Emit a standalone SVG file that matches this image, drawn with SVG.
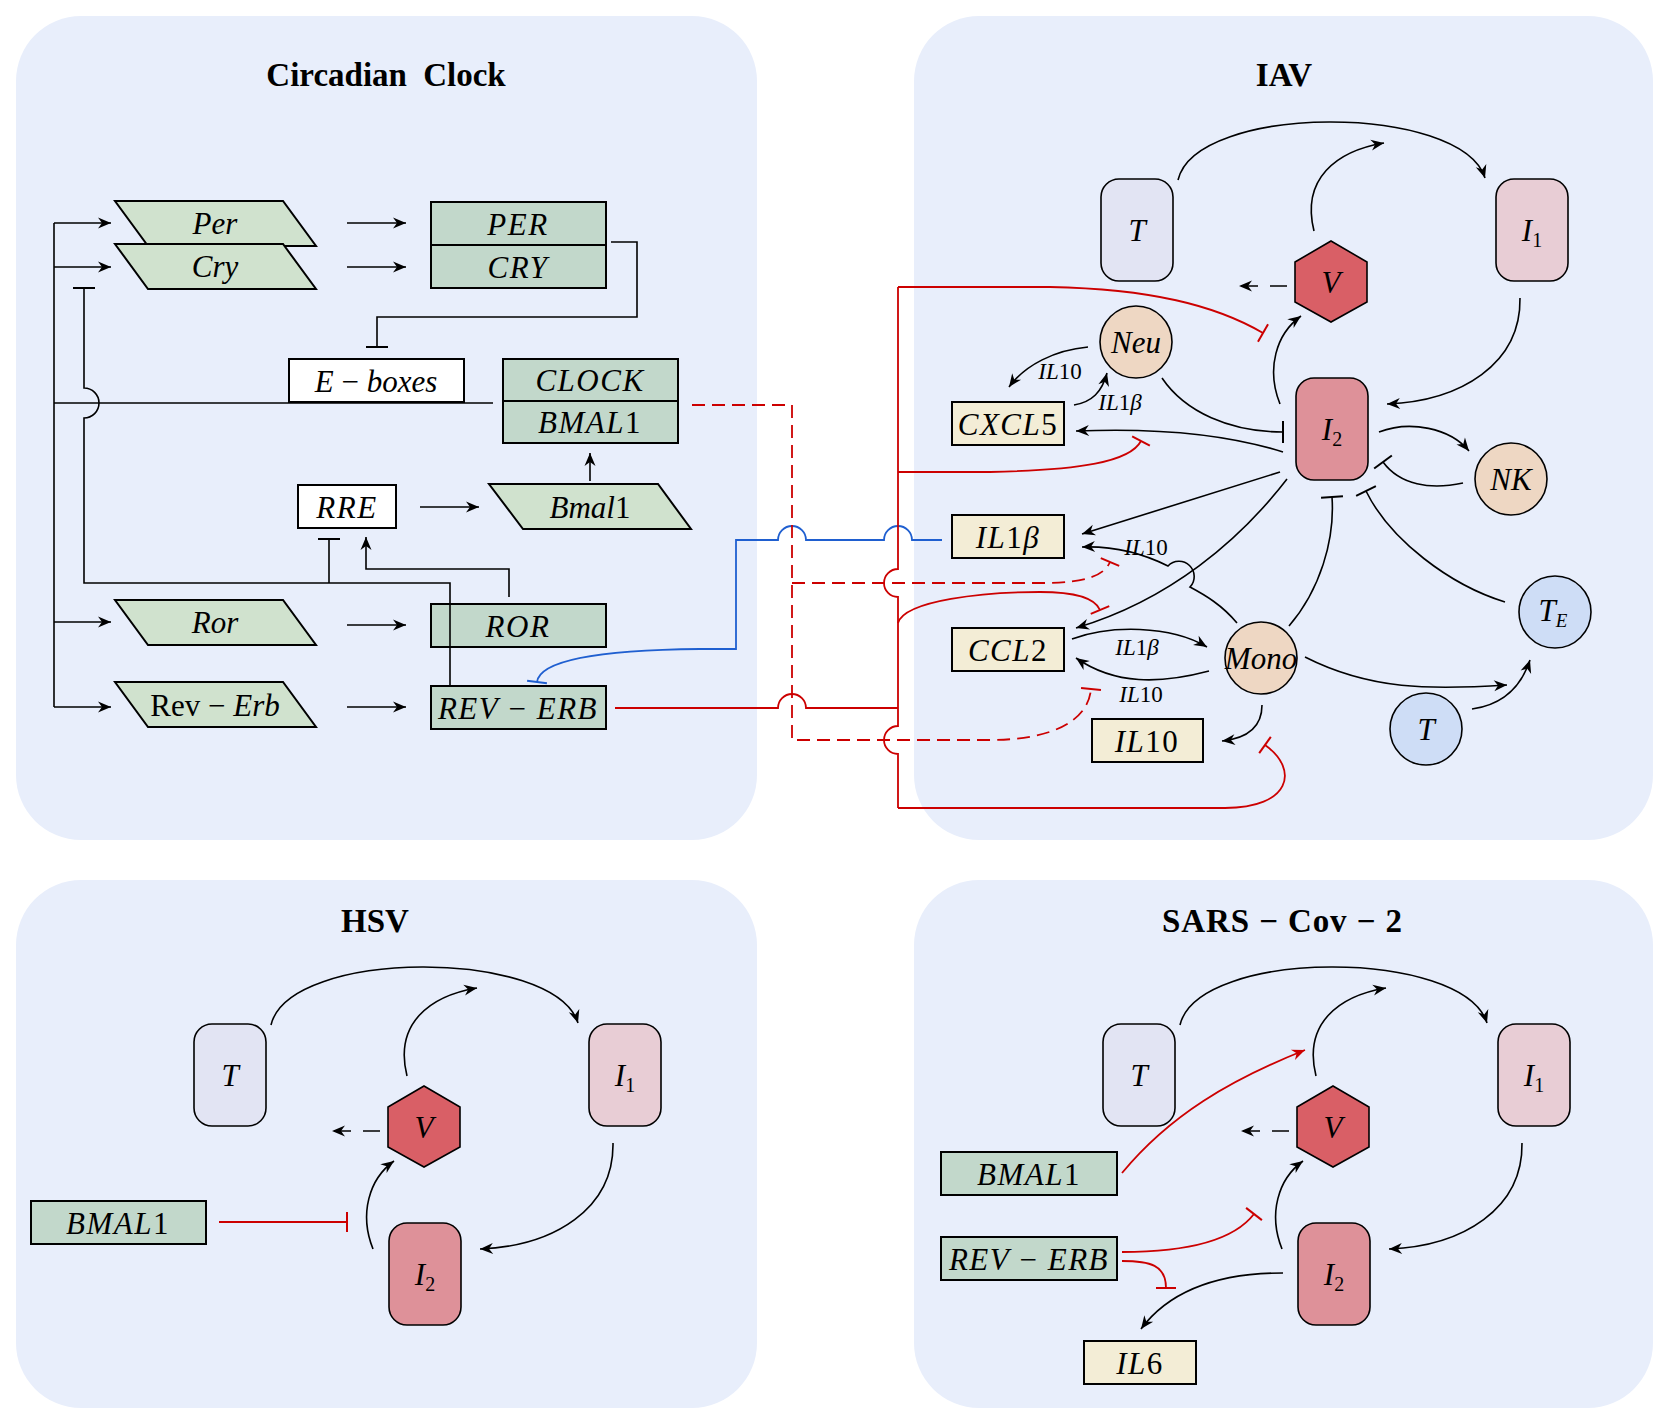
<svg xmlns="http://www.w3.org/2000/svg" width="1669" height="1423" viewBox="0 0 1669 1423">
<style>
.panel{fill:#E8EEFB}
.title{font-family:"Liberation Serif",serif;font-weight:bold;font-size:33px;text-anchor:middle;fill:#000}
.t{font-family:"Liberation Serif",serif;font-style:italic;font-size:31px;text-anchor:middle;fill:#000}
.w{letter-spacing:1.5px}
.u{font-style:normal}
.lbl{font-family:"Liberation Serif",serif;font-style:italic;font-size:23px;text-anchor:middle;fill:#000}
.par{fill:#D0E2CE;stroke:#000;stroke-width:2}
.gbox{fill:#C2D8CB;stroke:#000;stroke-width:2}
.wbox{fill:#FFFFFF;stroke:#000;stroke-width:2}
.cbox{fill:#F3EDD6;stroke:#000;stroke-width:2}
.nT{fill:#E2E4F3;stroke:#000;stroke-width:1.6}
.nI1{fill:#E8CDD5;stroke:#000;stroke-width:1.6}
.nI2{fill:#DE9199;stroke:#000;stroke-width:1.6}
.nV{fill:#D95F66;stroke:#000;stroke-width:1.6}
.nP{fill:#EED7C3;stroke:#000;stroke-width:1.6}
.nB{fill:#CEDDF6;stroke:#000;stroke-width:1.6}
.e{fill:none;stroke:#000;stroke-width:1.6}
.r{fill:none;stroke:#CC0000;stroke-width:1.8}
.d{stroke-dasharray:13 7}
.b{fill:none;stroke:#1F5FD0;stroke-width:1.8}
</style>
<defs>
<marker id="ah" viewBox="-14 -7 15 14" refX="0" refY="0" markerWidth="15" markerHeight="14" markerUnits="userSpaceOnUse" orient="auto"><path d="M0,0 L-13,-5.5 L-9,0 L-13,5.5 Z" fill="#000"/></marker>
<marker id="ahr" viewBox="-14 -7 15 14" refX="0" refY="0" markerWidth="15" markerHeight="14" markerUnits="userSpaceOnUse" orient="auto"><path d="M0,0 L-13,-5.5 L-9,0 L-13,5.5 Z" fill="#CC0000"/></marker>
<marker id="bar" viewBox="-2 -12 4 24" refX="0" refY="0" markerWidth="4" markerHeight="24" markerUnits="userSpaceOnUse" orient="auto"><path d="M0,-11 V11" stroke="#000" stroke-width="2" fill="none"/></marker>
<marker id="barr" viewBox="-2 -12 4 24" refX="0" refY="0" markerWidth="4" markerHeight="24" markerUnits="userSpaceOnUse" orient="auto"><path d="M0,-10 V10" stroke="#CC0000" stroke-width="2" fill="none"/></marker>
<marker id="barb" viewBox="-2 -12 4 24" refX="0" refY="0" markerWidth="4" markerHeight="24" markerUnits="userSpaceOnUse" orient="auto"><path d="M0,-10 V10" stroke="#1F5FD0" stroke-width="2" fill="none"/></marker>
</defs>

<g id="panels">
<rect class="panel" x="16" y="16" width="741" height="824" rx="65"/>
<rect class="panel" x="914" y="16" width="739" height="824" rx="65"/>
<rect class="panel" x="16" y="880" width="741" height="528" rx="65"/>
<rect class="panel" x="914" y="880" width="739" height="528" rx="65"/>
<text class="title" x="386" y="86" word-spacing="8">Circadian Clock</text>
<text class="title" x="1284" y="86">IAV</text>
<text class="title" x="375" y="932">HSV</text>
<text class="title" x="1282" y="932" textLength="240">SARS − Cov − 2</text>
</g>

<!-- Circadian clock nodes -->
<g id="n-Per"><polygon class="par" points="115,201 283,201 316,246 148,246"/><text class="t" x="215" y="234">Per</text></g>
<g id="n-Cry"><polygon class="par" points="115,244 283,244 316,289 148,289"/><text class="t" x="215" y="277">Cry</text></g>
<g id="n-PER"><rect class="gbox" x="431" y="202" width="175" height="43"/><text class="t w" x="518" y="235">PER</text></g>
<g id="n-CRY"><rect class="gbox" x="431" y="245" width="175" height="43"/><text class="t w" x="518" y="278">CRY</text></g>
<g id="n-Eboxes"><rect class="wbox" x="289" y="359" width="175" height="43"/><text class="t" x="376" y="392">E<tspan class="u"> − </tspan>boxes</text></g>
<g id="n-CLOCK"><rect class="gbox" x="503" y="359" width="175" height="42"/><text class="t w" x="590" y="391">CLOCK</text></g>
<g id="n-BMAL1"><rect class="gbox" x="503" y="401" width="175" height="42"/><text class="t w" x="590" y="433">BMAL<tspan class="u">1</tspan></text></g>
<g id="n-RRE"><rect class="wbox" x="298" y="485" width="98" height="43"/><text class="t w" x="347" y="518">RRE</text></g>
<g id="n-Bmal1"><polygon class="par" points="489,484 658,484 691,529 523,529"/><text class="t" x="590" y="518">Bmal<tspan class="u">1</tspan></text></g>
<g id="n-Ror"><polygon class="par" points="115,600 283,600 316,645 148,645"/><text class="t" x="215" y="633">Ror</text></g>
<g id="n-ROR"><rect class="gbox" x="431" y="604" width="175" height="43"/><text class="t w" x="518" y="637">ROR</text></g>
<g id="n-RevErb"><polygon class="par" points="115,682 283,682 316,727 148,727"/><text class="t" x="215" y="716"><tspan class="u">Rev − </tspan>Erb</text></g>
<g id="n-REVERB"><rect class="gbox" x="431" y="686" width="175" height="43"/><text class="t w" x="518" y="719">REV<tspan class="u"> − </tspan>ERB</text></g>

<!-- IAV nodes -->
<g id="iav-T"><rect class="nT" x="1101" y="179" width="72" height="102" rx="18"/><text class="t" x="1137" y="241">T</text></g>
<g id="iav-I1"><rect class="nI1" x="1496" y="179" width="72" height="102" rx="18"/><text class="t" x="1532" y="241">I<tspan class="u" font-size="20" dy="6">1</tspan></text></g>
<g id="iav-V"><polygon class="nV" points="1331,241 1367,262 1367,302 1331,322 1295,302 1295,262"/><text class="t" x="1331" y="293">V</text></g>
<g id="iav-I2"><rect class="nI2" x="1296" y="378" width="72" height="102" rx="18"/><text class="t" x="1332" y="440">I<tspan class="u" font-size="20" dy="6">2</tspan></text></g>
<g id="iav-Neu"><circle class="nP" cx="1136" cy="342" r="36"/><text class="t" x="1136" y="353">Neu</text></g>
<g id="iav-NK"><circle class="nP" cx="1511" cy="479" r="36"/><text class="t" x="1511" y="490">NK</text></g>
<g id="iav-Mono"><circle class="nP" cx="1261" cy="658" r="36"/><text class="t" x="1261" y="669">Mono</text></g>
<g id="iav-TE"><circle class="nB" cx="1555" cy="612" r="36"/><text class="t" x="1553" y="621">T<tspan font-size="19" dy="6">E</tspan></text></g>
<g id="iav-Tc"><circle class="nB" cx="1426" cy="729" r="36"/><text class="t" x="1426" y="740">T</text></g>
<g id="iav-CXCL5"><rect class="cbox" x="952" y="402" width="112" height="43"/><text class="t w" x="1008" y="435">CXCL<tspan class="u">5</tspan></text></g>
<g id="iav-IL1b"><rect class="cbox" x="952" y="515" width="112" height="43"/><text class="t w" x="1008" y="548">IL<tspan class="u">1</tspan>β</text></g>
<g id="iav-CCL2"><rect class="cbox" x="952" y="628" width="112" height="43"/><text class="t w" x="1008" y="661">CCL<tspan class="u">2</tspan></text></g>
<g id="iav-IL10"><rect class="cbox" x="1092" y="719" width="111" height="43"/><text class="t w" x="1147" y="752">IL<tspan class="u">10</tspan></text></g>

<!-- HSV nodes -->
<g id="hsv-T"><rect class="nT" x="194" y="1024" width="72" height="102" rx="18"/><text class="t" x="230" y="1086">T</text></g>
<g id="hsv-I1"><rect class="nI1" x="589" y="1024" width="72" height="102" rx="18"/><text class="t" x="625" y="1086">I<tspan class="u" font-size="20" dy="6">1</tspan></text></g>
<g id="hsv-V"><polygon class="nV" points="424,1086 460,1107 460,1147 424,1167 388,1147 388,1107"/><text class="t" x="424" y="1138">V</text></g>
<g id="hsv-I2"><rect class="nI2" x="389" y="1223" width="72" height="102" rx="18"/><text class="t" x="425" y="1285">I<tspan class="u" font-size="20" dy="6">2</tspan></text></g>
<g id="hsv-BMAL1"><rect class="gbox" x="31" y="1201" width="175" height="43"/><text class="t w" x="118" y="1234">BMAL<tspan class="u">1</tspan></text></g>

<!-- SARS-CoV-2 nodes -->
<g id="sars-T"><rect class="nT" x="1103" y="1024" width="72" height="102" rx="18"/><text class="t" x="1139" y="1086">T</text></g>
<g id="sars-I1"><rect class="nI1" x="1498" y="1024" width="72" height="102" rx="18"/><text class="t" x="1534" y="1086">I<tspan class="u" font-size="20" dy="6">1</tspan></text></g>
<g id="sars-V"><polygon class="nV" points="1333,1086 1369,1107 1369,1147 1333,1167 1297,1147 1297,1107"/><text class="t" x="1333" y="1138">V</text></g>
<g id="sars-I2"><rect class="nI2" x="1298" y="1223" width="72" height="102" rx="18"/><text class="t" x="1334" y="1285">I<tspan class="u" font-size="20" dy="6">2</tspan></text></g>
<g id="sars-BMAL1"><rect class="gbox" x="941" y="1152" width="176" height="43"/><text class="t w" x="1029" y="1185">BMAL<tspan class="u">1</tspan></text></g>
<g id="sars-REVERB"><rect class="gbox" x="941" y="1237" width="176" height="43"/><text class="t w" x="1029" y="1270">REV<tspan class="u"> − </tspan>ERB</text></g>
<g id="sars-IL6"><rect class="cbox" x="1084" y="1341" width="112" height="43"/><text class="t w" x="1140" y="1374">IL<tspan class="u">6</tspan></text></g>

<g id="connectors">
<!-- circadian -->
<path class="e" d="M54,223 V707"/>
<path class="e" d="M54,223 H111" marker-end="url(#ah)"/>
<path class="e" d="M54,267 H111" marker-end="url(#ah)"/>
<path class="e" d="M54,622 H111" marker-end="url(#ah)"/>
<path class="e" d="M54,707 H111" marker-end="url(#ah)"/>
<path class="e" d="M54,403 H493"/>
<path class="e" d="M347,223 H406" marker-end="url(#ah)"/>
<path class="e" d="M347,267 H406" marker-end="url(#ah)"/>
<path class="e" d="M347,625 H406" marker-end="url(#ah)"/>
<path class="e" d="M347,707 H406" marker-end="url(#ah)"/>
<path class="e" d="M611,242 H637 V317 H377 V347" marker-end="url(#bar)"/>
<path class="e" d="M450,686 V583 H84 V418 A15,15 0 0 0 84,388 V288" marker-end="url(#bar)"/>
<path class="e" d="M329,583 V539" marker-end="url(#bar)"/>
<path class="e" d="M509,597 V569 H366 V537" marker-end="url(#ah)"/>
<path class="e" d="M420,507 H479" marker-end="url(#ah)"/>
<path class="e" d="M590,481 V453" marker-end="url(#ah)"/>
<!-- cross-panel -->
<path class="b" d="M942,540 H912 A14,14 0 0 0 884,540 H806 A14,14 0 0 0 778,540 H736 V649 H700 C600,650 540,660 537,682" marker-end="url(#barb)"/>
<path class="r d" d="M692,405 H792 V740 H990 C1050,740 1088,722 1091,689" marker-end="url(#barr)"/>
<path class="r d" d="M792,583 H1050 C1085,582 1104,576 1110,562" marker-end="url(#barr)"/>
<path class="r" d="M615,708 H778 A14,14 0 0 1 806,708 H898"/>
<path class="r" d="M898,287 V569 A14,14 0 0 0 898,597 V726 A14,14 0 0 0 898,754 V808"/>
<path class="r" d="M898,287 H1050 C1150,289 1215,305 1263,333" marker-end="url(#barr)"/>
<path class="r" d="M898,472 H990 C1080,470 1130,462 1141,441" marker-end="url(#barr)"/>
<path class="r" d="M898,623 C905,600 985,592 1040,592 C1075,592 1095,598 1100,610" marker-end="url(#barr)"/>
<path class="r" d="M898,808 H1225 C1290,808 1300,770 1265,745" marker-end="url(#barr)"/>
<!-- IAV -->
<path class="e" d="M1178,180 C1196,103 1461,103 1485,178" marker-end="url(#ah)"/>
<path class="e" d="M1314,231 C1301,179 1336,151 1384,143" marker-end="url(#ah)"/>
<path class="e" d="M1287,286 L1239,286" stroke-dasharray="17 12" marker-end="url(#ah)"/>
<path class="e" d="M1520,298 C1521,364 1461,401 1387,404" marker-end="url(#ah)"/>
<path class="e" d="M1280,404 C1266,369 1276,334 1301,316" marker-end="url(#ah)"/>
<path class="e" d="M1162,378 C1185,412 1230,432 1283,432" marker-end="url(#bar)"/>
<path class="e" d="M1283,452 C1220,432 1150,428 1076,431" marker-end="url(#ah)"/>
<path class="e" d="M1088,347 C1055,350 1025,365 1009,387" marker-end="url(#ah)"/>
<path class="e" d="M1074,405 C1092,402 1102,392 1107,373" marker-end="url(#ah)"/>
<path class="e" d="M1379,432 C1410,420 1450,428 1469,451" marker-end="url(#ah)"/>
<path class="e" d="M1463,483 C1430,490 1400,485 1383,462" marker-end="url(#bar)"/>
<path class="e" d="M1280,472 L1082,534" marker-end="url(#ah)"/>
<path class="e" d="M1287,479 C1240,540 1170,600 1076,628" marker-end="url(#ah)"/>
<path class="e" d="M1237,623 C1222,605 1205,595 1190,587 A15,15 0 0 0 1168,566 C1140,552 1110,546 1082,547" marker-end="url(#ah)"/>
<path class="e" d="M1072,639 C1110,625 1170,625 1207,647" marker-end="url(#ah)"/>
<path class="e" d="M1209,671 C1160,684 1115,685 1076,658" marker-end="url(#ah)"/>
<path class="e" d="M1262,705 C1262,725 1250,738 1222,741" marker-end="url(#ah)"/>
<path class="e" d="M1289,626 C1320,590 1335,540 1332,497" marker-end="url(#bar)"/>
<path class="e" d="M1505,602 C1450,585 1390,540 1366,491" marker-end="url(#bar)"/>
<path class="e" d="M1305,657 C1370,690 1430,690 1507,685" marker-end="url(#ah)"/>
<path class="e" d="M1472,709 C1500,705 1520,690 1530,660" marker-end="url(#ah)"/>
<text class="lbl" x="1060" y="379">IL<tspan class="u">10</tspan></text>
<text class="lbl" x="1120" y="410">IL<tspan class="u">1</tspan>β</text>
<text class="lbl" x="1146" y="555">IL<tspan class="u">10</tspan></text>
<text class="lbl" x="1137" y="655">IL<tspan class="u">1</tspan>β</text>
<text class="lbl" x="1141" y="702">IL<tspan class="u">10</tspan></text>
<!-- HSV -->
<path class="e" d="M271,1025 C289,948 554,948 578,1023" marker-end="url(#ah)"/>
<path class="e" d="M407,1076 C394,1024 429,996 477,988" marker-end="url(#ah)"/>
<path class="e" d="M380,1131 L332,1131" stroke-dasharray="17 12" marker-end="url(#ah)"/>
<path class="e" d="M613,1143 C614,1209 554,1246 480,1249" marker-end="url(#ah)"/>
<path class="e" d="M373,1249 C359,1214 369,1179 394,1161" marker-end="url(#ah)"/>
<path class="r" d="M219,1222 H347" marker-end="url(#barr)"/>
<!-- SARS -->
<path class="e" d="M1180,1025 C1198,948 1463,948 1487,1023" marker-end="url(#ah)"/>
<path class="e" d="M1316,1076 C1303,1024 1338,996 1386,988" marker-end="url(#ah)"/>
<path class="e" d="M1289,1131 L1241,1131" stroke-dasharray="17 12" marker-end="url(#ah)"/>
<path class="e" d="M1522,1143 C1523,1209 1463,1246 1389,1249" marker-end="url(#ah)"/>
<path class="e" d="M1282,1249 C1268,1214 1278,1179 1303,1161" marker-end="url(#ah)"/>
<path class="e" d="M1283,1273 C1220,1273 1170,1290 1141,1329" marker-end="url(#ah)"/>
<path class="r" d="M1122,1173 C1170,1115 1230,1080 1305,1050" marker-end="url(#ahr)"/>
<path class="r" d="M1122,1252 C1190,1252 1234,1240 1254,1214" marker-end="url(#barr)"/>
<path class="r" d="M1122,1261 C1150,1261 1166,1265 1166,1288" marker-end="url(#barr)"/>
</g>
</svg>
